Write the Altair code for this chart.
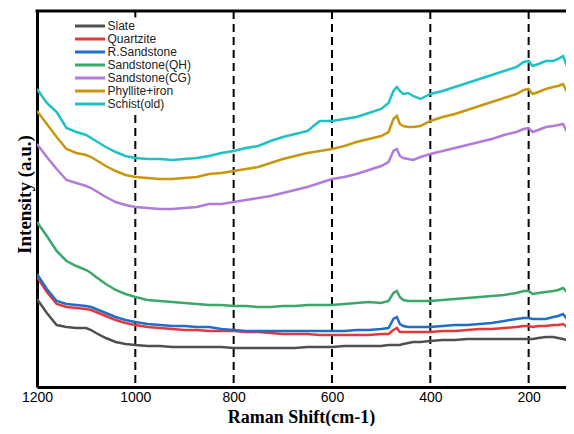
import altair as alt
import pandas as pd

# Raman shift grid (cm-1)
wavenumber = [1200, 1180, 1160, 1140, 1120, 1100, 1090, 1080, 1060, 1040, 1020, 1000,
              975, 950, 925, 900, 875, 850, 825, 800, 775, 750, 725, 700, 675, 650, 625, 600, 575, 550, 525, 500,
              485, 475, 468, 462, 455, 445, 435, 420,
              400, 375, 350, 325, 300, 275, 250, 225,
              210, 200, 192, 180, 165, 150, 140, 130, 122, 115, 107, 100]

# Intensities (a.u.)
slate = [88, 74, 62, 60, 59, 59, 57, 54, 49, 45, 43, 42,
         41, 41, 40, 40, 40, 40, 40, 39, 39, 39, 39, 39, 39, 40, 40, 40, 41, 41, 41, 41,
         42, 42, 42, 42, 43, 44, 45, 45,
         46, 47, 47, 48, 48, 48, 48, 48,
         48, 48, 48, 49, 50, 50, 49, 48, 47, 46, 46, 46]
quartzite = [110, 95, 83, 80, 79, 78, 77, 75, 71, 67, 64, 62,
             60, 59, 58, 57, 57, 56, 56, 56, 55, 55, 54, 53, 53, 53, 52, 52, 52, 52, 52, 53,
             53, 57, 59, 55, 55, 55, 55, 55,
             55, 56, 56, 57, 58, 58, 59, 60,
             61, 61, 60, 61, 61, 62, 62, 63, 60, 60, 60, 60]
r_sandstone = [113, 98, 86, 83, 82, 81, 80, 78, 74, 70, 67, 65,
               63, 62, 61, 61, 60, 60, 58, 57, 56, 56, 56, 56, 56, 56, 56, 56, 56, 57, 57, 58,
               59, 68, 70, 63, 61, 60, 60, 60,
               60, 61, 62, 62, 63, 64, 66, 68,
               69, 69, 68, 68, 68, 70, 71, 73, 68, 70, 70, 70]
sandstone_qh = [165, 151, 136, 126, 121, 117, 114, 110, 103, 97, 93, 90,
                87, 86, 85, 84, 83, 82, 82, 81, 81, 80, 80, 81, 81, 82, 82, 82, 83, 84, 85, 84,
                86, 94, 96, 90, 87, 86, 86, 86,
                86, 87, 88, 89, 90, 91, 92, 94,
                96, 96, 93, 94, 95, 96, 97, 99, 95, 96, 97, 97]
sandstone_cg = [243, 230, 218, 207, 204, 201, 199, 196, 190, 185, 182, 180,
                179, 178, 178, 179, 180, 183, 183, 185, 187, 189, 191, 194, 197, 200, 204, 208, 210, 213, 217, 221,
                225, 236, 238, 231, 229, 228, 227, 230,
                233, 236, 239, 242, 245, 248, 252, 255,
                258, 259, 255, 257, 260, 261, 262, 263, 255, 258, 260, 260]
phyllite_iron = [276, 263, 250, 238, 234, 232, 230, 227, 221, 216, 212, 210,
                 209, 208, 208, 209, 210, 213, 214, 216, 218, 220, 224, 228, 231, 234, 236, 238, 241, 245, 248, 251,
                 255, 268, 271, 263, 261, 260, 260, 261,
                 266, 270, 273, 277, 281, 285, 289, 293,
                 297, 298, 293, 295, 298, 300, 301, 303, 295, 297, 298, 298]
schist_old = [298, 284, 275, 259, 255, 252, 249, 246, 240, 235, 231, 229,
              228, 228, 227, 228, 229, 231, 234, 236, 239, 241, 246, 250, 253, 256, 266, 266, 268, 270, 274, 278,
              284, 296, 300, 296, 293, 294, 291, 288,
              293, 296, 300, 304, 308, 312, 316, 320,
              325, 326, 321, 323, 326, 326, 328, 331, 321, 324, 326, 326]

series_names = ["Slate", "Quartzite", "R.Sandstone", "Sandstone(QH)",
                "Sandstone(CG)", "Phyllite+iron", "Schist(old)"]
series_values = [slate, quartzite, r_sandstone, sandstone_qh,
                 sandstone_cg, phyllite_iron, schist_old]
series_colors = ["#505050", "#e5383b", "#1f6ec8", "#3aa86a",
                 "#b27bda", "#c9970e", "#1fc2c4"]

tick_values = [1200, 1000, 800, 600, 400, 200]
dashed_positions = [1000, 800, 600, 400, 200]

rows = []
for order, (name, vals) in enumerate(zip(series_names, series_values)):
    for w, v in zip(wavenumber, vals):
        rows.append({"series": name, "wavenumber": w, "intensity": v, "order": order})
df = pd.DataFrame(rows)

SANS = "Liberation Sans, Arial, Helvetica, sans-serif"
SERIF = "Liberation Serif, Times New Roman, serif"
W, H = 529, 376

xscale = alt.Scale(domain=[1200, 124], nice=False, zero=False)
yscale = alt.Scale(domain=[0, 376], nice=False, zero=False)

xaxis = alt.Axis(values=tick_values, ticks=False, grid=False, format="d",
                 labelPadding=3, labelFontSize=14, labelFont=SANS, labelColor="#000",
                 labelOverlap=False, labelFlush=False,
                 domainWidth=3, domainColor="#000",
                 title="Raman Shift(cm-1)", titleFont=SERIF, titleFontSize=18,
                 titleFontWeight="bold", titleColor="#000",
                 titleX=264, titleY=35, titleBaseline="alphabetic")

lines = alt.Chart(df).mark_line(strokeWidth=2.5, clip=True).encode(
    x=alt.X("wavenumber:Q", scale=xscale, axis=xaxis),
    y=alt.Y("intensity:Q", scale=yscale,
            axis=alt.Axis(labels=False, ticks=False, grid=False,
                          domainWidth=3, domainColor="#000",
                          title="Intensity (a.u.)", titleFont=SERIF, titleFontSize=19,
                          titleFontWeight="bold", titleColor="#000",
                          titlePadding=3, titleY=183)),
    color=alt.Color("series:N",
                    scale=alt.Scale(domain=series_names, range=series_colors),
                    legend=alt.Legend(orient="none", legendX=34.5, legendY=6.5, title=None,
                                      symbolType="stroke", symbolSize=900, symbolStrokeWidth=3,
                                      labelFont=SANS, labelFontSize=12, labelColor="#222",
                                      clipHeight=13, rowPadding=0, padding=2, labelOffset=1,
                                      fillColor="white")),
    order=alt.Order("order:Q"),
)

rules = alt.Chart(pd.DataFrame({"pos": dashed_positions})).mark_rule(
    color="#000", strokeWidth=2, strokeDash=[8, 5]
).encode(x=alt.X("pos:Q", scale=xscale, axis=xaxis))

top = alt.Chart(pd.DataFrame({"k": [0]})).mark_rule(color="#000", strokeWidth=3).encode(
    x=alt.value(-1.5), x2=alt.value(W), y=alt.value(0)
)

chart = alt.layer(rules, lines, top).properties(
    width=W, height=H,
    autosize=alt.AutoSizeParams(type="none"),
    padding={"left": 29, "top": 3, "right": 0, "bottom": 39},
).configure_view(strokeWidth=0)

chart.save("out.html", embed_options={"renderer": "svg", "actions": False})
